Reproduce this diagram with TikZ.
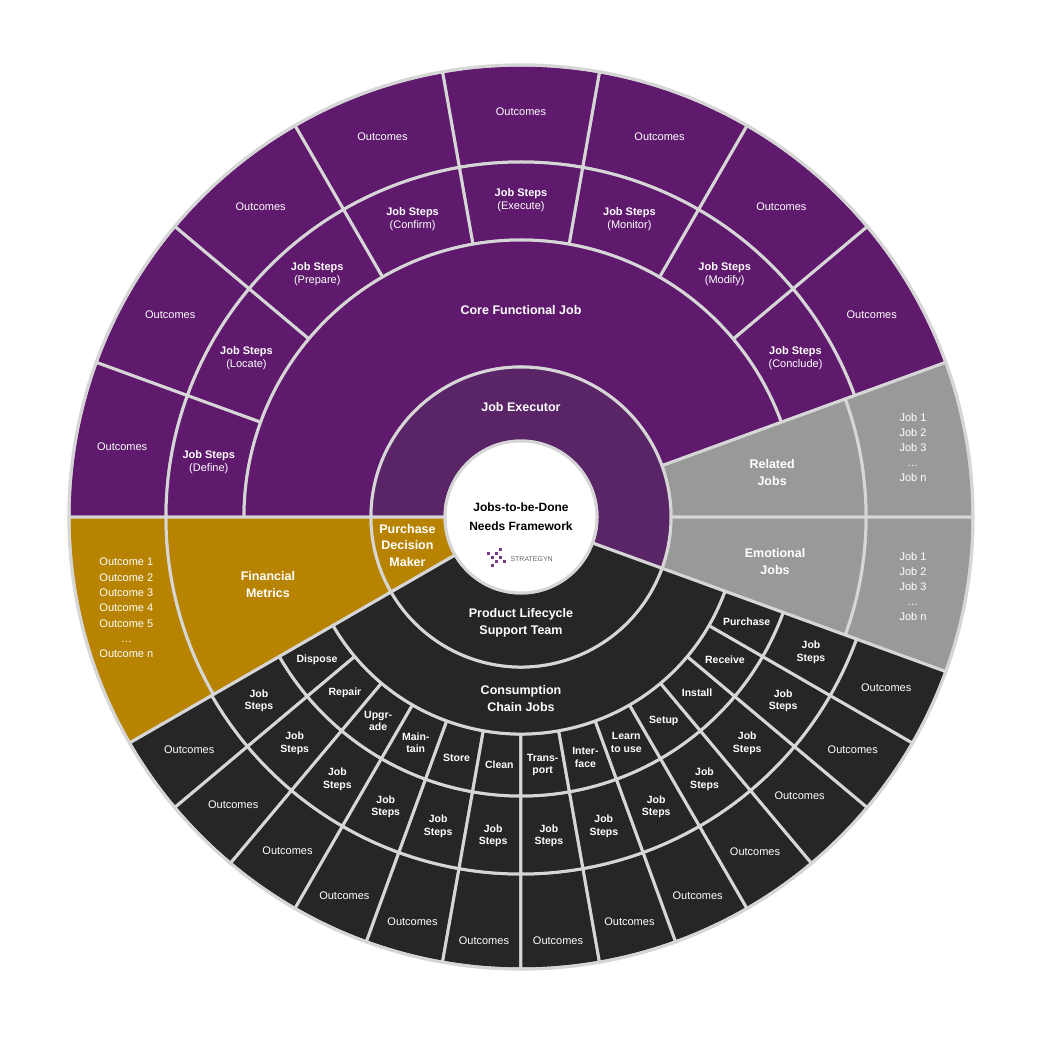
\documentclass[tikz,border=0pt]{standalone}
\usepackage{fontspec}
\setmainfont{Liberation Sans}
\begin{document}
\begin{tikzpicture}[x=1pt,y=1pt,
  lbl/.style={text=white,align=center,font=\fontsize{11}{13}\selectfont},
  blbl/.style={text=white,align=center,font=\bfseries\fontsize{11}{13}\selectfont},
  big/.style={text=white,align=center,font=\bfseries\fontsize{12.5}{17}\selectfont},
  chain/.style={text=white,align=center,font=\bfseries\fontsize{10.5}{12.5}\selectfont}]
\definecolor{purp}{HTML}{5F1A6D}
\definecolor{jexec}{HTML}{5A2566}
\definecolor{gold}{HTML}{B78300}
\definecolor{blk}{HTML}{262626}
\definecolor{gry}{HTML}{999999}
\definecolor{sep}{HTML}{D6D6D6}
\definecolor{logo}{HTML}{7A3A8A}
\useasboundingbox (-521,-520) rectangle (534,517);
\newcommand\sect[5]{\filldraw[fill=#5,draw=sep,line width=3pt] (#1:#3) arc[start angle=#1,end angle=#2,radius=#3] -- (#2:#4) arc[start angle=#2,end angle=#1,radius=#4] -- cycle;}
% top purple
\foreach \lab [count=\i from 0] in {Conclude,Modify,Monitor,Execute,Confirm,Prepare,Locate,Define}{
  \pgfmathsetmacro\aa{20+20*\i}\pgfmathsetmacro\ab{40+20*\i}\pgfmathsetmacro\am{30+20*\i}
  \sect{\aa}{\ab}{355}{452}{purp}
  \sect{\aa}{\ab}{277}{355}{purp}
  \node[lbl] (to\i) at (\am:405) {Outcomes};
  \node[lbl] (ts\i) at (\am:317) {\textbf{Job Steps}\\(\lab)};
}
\sect{20}{180}{150}{277}{purp}
\node[big] (cfj) at (90:207) {Core Functional Job};
% related / emotional
\sect{0}{20}{345}{452}{gry}
\sect{0}{20}{150}{345}{gry}
\sect{-20}{0}{345}{452}{gry}
\sect{-20}{0}{150}{345}{gry}
\node[big] (rj) at (10:255) {Related\\Jobs};
\node[big] (ej) at (-10:258) {Emotional\\Jobs};
\node[lbl,font=\fontsize{11}{15}\selectfont] (rl) at (10:398) {Job 1\\Job 2\\Job 3\\…\\Job n};
\node[lbl,font=\fontsize{11}{15}\selectfont] (el) at (-10:398) {Job 1\\Job 2\\Job 3\\…\\Job n};
% gold
\sect{180}{210}{355}{452}{gold}
\sect{180}{210}{150}{355}{gold}
\node[big] (fm) at (195:262) {Financial\\Metrics};
\node[lbl,font=\fontsize{11}{15.3}\selectfont] (fl) at (193:405) {Outcome 1\\Outcome 2\\Outcome 3\\Outcome 4\\Outcome 5\\…\\Outcome n};
% black
\foreach \lab/\ro [count=\i from 0] in {Dispose/405,Repair/407,{Upgr-\\ade}/407,{Main-\\tain}/418,Store/419,Clean/425,{Trans-\\port}/425,{Inter-\\face}/419,{Learn\\to use}/418,Setup/408,Install/394,Receive/405,Purchase/403}{
  \pgfmathsetmacro\aa{210+10*\i}\pgfmathsetmacro\ab{220+10*\i}\pgfmathsetmacro\am{215+10*\i}
  \sect{\aa}{\ab}{357}{452}{blk}
  \sect{\aa}{\ab}{279}{357}{blk}
  \sect{\aa}{\ab}{217}{279}{blk}
  \node[lbl] (bo\i) at (\am:\ro) {Outcomes};
  \node[chain] (bs\i) at (\am:320) {Job\\Steps};
  \node[chain] (bc\i) at (\am:249) {\lab};
}
\sect{210}{340}{150}{217}{blk}
\node[big] (ccj) at (270:182) {Consumption\\Chain Jobs};
% inner ring
\sect{-20}{180}{76}{150}{jexec}
\sect{180}{210}{76}{150}{gold}
\sect{210}{340}{76}{150}{blk}
\node[big] (je) at (90:110) {Job Executor};
\node[big,font=\bfseries\fontsize{12.5}{16.5}\selectfont] (pdm) at (194:117) {Purchase\\Decision\\Maker};
\node[big] (pls) at (270:106) {Product Lifecycle\\Support Team};
% center
\filldraw[fill=white,draw=sep,line width=3pt] (0,0) circle (76);
\node[text=black,align=center,font=\bfseries\fontsize{12}{19}\selectfont] (ctr) at (0,0) {Jobs-to-be-Done\\Needs Framework};
\foreach \p in {(-26,-38),(-30,-42),(-22,-42),(-26,-46),(-34,-38),(-18,-46),(-30,-50),(-22,-34)}
  \fill[logo] \p rectangle ++(3,3);
\node[text=gray!80!black,font=\fontsize{7}{8}\selectfont,anchor=west] (logo) at (-14,-42) {STRATEGYN};
\draw[sep,line width=3pt] (0,0) circle (452);
\end{tikzpicture}
\end{document}
